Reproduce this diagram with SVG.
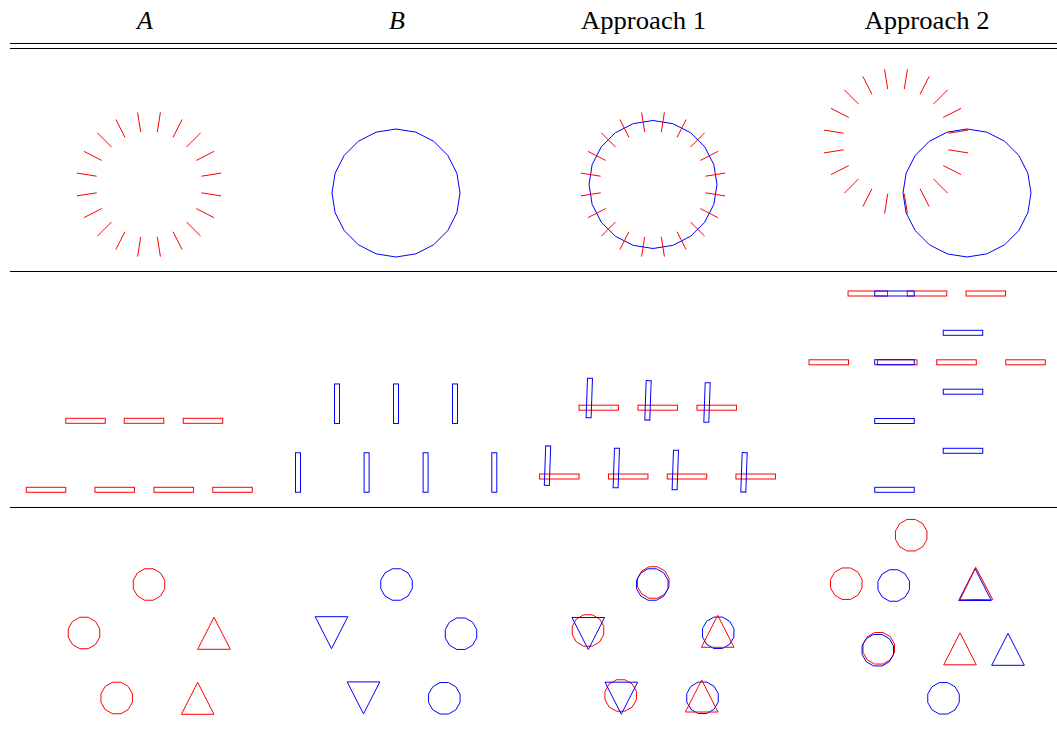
<svg xmlns="http://www.w3.org/2000/svg" xmlns:xlink="http://www.w3.org/1999/xlink" width="1057" height="729" viewBox="0 0 1057 729">
  <style>
    .hdr { font-family: "Liberation Serif", "DejaVu Serif", serif; font-size: 26px; fill: #000; text-anchor: middle; }
    .it { font-style: italic; }
    .rule { stroke: #000; stroke-width: 1; }
    .r { stroke: #ff0000; fill: none; stroke-width: 1; }
    .b { stroke: #0000ff; fill: none; stroke-width: 1; }
  </style>
  <defs>
    <!-- ring of 20 radial ticks, inner radius 53, outer radius 73 -->
    <path id="ring" d="M8.29,-52.35L11.42,-72.10 M24.06,-47.22L33.14,-65.04 M37.48,-37.48L51.62,-51.62 M47.22,-24.06L65.04,-33.14 M52.35,-8.29L72.10,-11.42 M52.35,8.29L72.10,11.42 M47.22,24.06L65.04,33.14 M37.48,37.48L51.62,51.62 M24.06,47.22L33.14,65.04 M8.29,52.35L11.42,72.10 M-8.29,52.35L-11.42,72.10 M-24.06,47.22L-33.14,65.04 M-37.48,37.48L-51.62,51.62 M-47.22,24.06L-65.04,33.14 M-52.35,8.29L-72.10,11.42 M-52.35,-8.29L-72.10,-11.42 M-47.22,-24.06L-65.04,-33.14 M-37.48,-37.48L-51.62,-51.62 M-24.06,-47.22L-33.14,-65.04 M-8.29,-52.35L-11.42,-72.10"/>
    <!-- large 20-sided circle, radius 64 -->
    <polygon id="big" points="0,-64 19.78,-60.87 37.62,-51.78 51.78,-37.62 60.87,-19.78 64,0 60.87,19.78 51.78,37.62 37.62,51.78 19.78,60.87 0,64 -19.78,60.87 -37.62,51.78 -51.78,37.62 -60.87,19.78 -64,0 -60.87,-19.78 -51.78,-37.62 -37.62,-51.78 -19.78,-60.87"/>
    <!-- small 12-sided circle, radius 16.3 -->
    <polygon id="dot" points="4.22,-15.74 11.53,-11.53 15.74,-4.22 15.74,4.22 11.53,11.53 4.22,15.74 -4.22,15.74 -11.53,11.53 -15.74,4.22 -15.74,-4.22 -11.53,-11.53 -4.22,-15.74"/>
    <!-- triangles pointing up / down -->
    <polygon id="tu" points="0,-16 16.3,16 -16.3,16"/>
    <polygon id="td" points="0,16 16.3,-16 -16.3,-16"/>
    <!-- thin bars -->
    <rect id="rh" x="-19.75" y="-2.5" width="39.5" height="5"/>
    <rect id="rv" x="-2.5" y="-19.75" width="5" height="39.5"/>
  </defs>

  <rect x="0" y="0" width="1057" height="729" fill="#fff"/>

  <!-- column headings -->
  <g id="headings">
    <text class="hdr it" x="145" y="29">A</text>
    <text class="hdr it" x="397" y="29">B</text>
    <text class="hdr" x="643.5" y="29" textLength="125" lengthAdjust="spacingAndGlyphs">Approach 1</text>
    <text class="hdr" x="927" y="29" textLength="125" lengthAdjust="spacingAndGlyphs">Approach 2</text>
  </g>

  <!-- table rules -->
  <g id="rules" class="rule">
    <line x1="10" y1="43.5" x2="1057" y2="43.5"/>
    <line x1="10" y1="48.5" x2="1057" y2="48.5"/>
    <line x1="10" y1="271.5" x2="1057" y2="271.5"/>
    <line x1="10" y1="507.5" x2="1057" y2="507.5"/>
  </g>

  <!-- row 1: ticks and circle -->
  <g id="r1-A"><use href="#ring" class="r" transform="translate(149,184.5)"/></g>
  <g id="r1-B"><use href="#big" class="b" transform="translate(396,193)"/></g>
  <g id="r1-ap1">
    <use href="#big" class="b" transform="translate(653,184.5)"/>
    <use href="#ring" class="r" transform="translate(653,184.5)"/>
  </g>
  <g id="r1-ap2">
    <use href="#ring" class="r" transform="translate(896,141.5)"/>
    <use href="#big" class="b" transform="translate(967,193)"/>
  </g>

  <!-- row 2: bars -->
  <g id="r2-A">
    <use href="#rh" class="r" transform="translate(85.5,420.8)"/>
    <use href="#rh" class="r" transform="translate(144,420.8)"/>
    <use href="#rh" class="r" transform="translate(203,420.8)"/>
    <use href="#rh" class="r" transform="translate(46,489.8)"/>
    <use href="#rh" class="r" transform="translate(114.7,489.8)"/>
    <use href="#rh" class="r" transform="translate(173.7,489.8)"/>
    <use href="#rh" class="r" transform="translate(232.5,489.8)"/>
  </g>
  <g id="r2-B">
    <use href="#rv" class="b" transform="translate(337,403.7)"/>
    <use href="#rv" class="b" transform="translate(396,403.7)"/>
    <use href="#rv" class="b" transform="translate(455,403.7)"/>
    <use href="#rv" class="b" transform="translate(298,472.5)"/>
    <use href="#rv" class="b" transform="translate(366.6,472.5)"/>
    <use href="#rv" class="b" transform="translate(425.6,472.5)"/>
    <use href="#rv" class="b" transform="translate(494.3,472.5)"/>
  </g>
  <g id="r2-ap1">
    <use href="#rh" class="r" transform="translate(598.8,407.7)"/>
    <use href="#rh" class="r" transform="translate(657.7,407.7)"/>
    <use href="#rh" class="r" transform="translate(716.7,407.7)"/>
    <use href="#rh" class="r" transform="translate(559.3,476.5)"/>
    <use href="#rh" class="r" transform="translate(628.2,476.5)"/>
    <use href="#rh" class="r" transform="translate(687,476.5)"/>
    <use href="#rh" class="r" transform="translate(755.7,476.5)"/>
    <use href="#rv" class="b" transform="translate(589.3,398) rotate(2)"/>
    <use href="#rv" class="b" transform="translate(648,400.3) rotate(2)"/>
    <use href="#rv" class="b" transform="translate(707,402.5) rotate(2)"/>
    <use href="#rv" class="b" transform="translate(547.5,465.7) rotate(2)"/>
    <use href="#rv" class="b" transform="translate(616.3,468) rotate(2)"/>
    <use href="#rv" class="b" transform="translate(675.3,470) rotate(2)"/>
    <use href="#rv" class="b" transform="translate(744,472.3) rotate(2)"/>
  </g>
  <g id="r2-ap2">
    <use href="#rh" class="r" transform="translate(867.8,293.5)"/>
    <use href="#rh" class="r" transform="translate(927,293.5)"/>
    <use href="#rh" class="r" transform="translate(985.8,293.5)"/>
    <use href="#rh" class="r" transform="translate(828.8,362.3)"/>
    <use href="#rh" class="r" transform="translate(897.3,362.3)"/>
    <use href="#rh" class="r" transform="translate(956.5,362.3)"/>
    <use href="#rh" class="r" transform="translate(1025.5,362.3)"/>
    <use href="#rh" class="b" transform="translate(894.5,293.5)"/>
    <use href="#rh" class="b" transform="translate(894.5,362.2)"/>
    <use href="#rh" class="b" transform="translate(894.5,421)"/>
    <use href="#rh" class="b" transform="translate(894.5,489.8)"/>
    <use href="#rh" class="b" transform="translate(963,332.8)"/>
    <use href="#rh" class="b" transform="translate(963,391.7)"/>
    <use href="#rh" class="b" transform="translate(963,450.8)"/>
  </g>

  <!-- row 3: circles and triangles -->
  <g id="r3-A">
    <use href="#dot" class="r" transform="translate(149,584.5)"/>
    <use href="#dot" class="r" transform="translate(84,633)"/>
    <use href="#dot" class="r" transform="translate(116.7,698)"/>
    <use href="#tu" class="r" transform="translate(214,633.3)"/>
    <use href="#tu" class="r" transform="translate(197.7,698.3)"/>
  </g>
  <g id="r3-B">
    <use href="#dot" class="b" transform="translate(396.5,584.5)"/>
    <use href="#dot" class="b" transform="translate(461,633.7)"/>
    <use href="#dot" class="b" transform="translate(444.3,698.3)"/>
    <use href="#td" class="b" transform="translate(331.5,632.7)"/>
    <use href="#td" class="b" transform="translate(363.5,697.9)"/>
  </g>
  <g id="r3-ap1">
    <use href="#dot" class="r" transform="translate(653.3,582.5)"/>
    <use href="#dot" class="b" transform="translate(652.3,584.5)"/>
    <use href="#dot" class="r" transform="translate(588,630.5)"/>
    <use href="#td" class="b" transform="translate(588.3,633.5)"/>
    <use href="#dot" class="b" transform="translate(718.2,632.8)"/>
    <use href="#tu" class="r" transform="translate(717.7,631.3)"/>
    <use href="#dot" class="r" transform="translate(620.7,695.5)"/>
    <use href="#td" class="b" transform="translate(621.3,698.2)"/>
    <use href="#dot" class="b" transform="translate(702.5,697.8)"/>
    <use href="#tu" class="r" transform="translate(701.7,696)"/>
  </g>
  <g id="r3-ap2">
    <use href="#dot" class="r" transform="translate(911.2,535.2)"/>
    <use href="#dot" class="r" transform="translate(846.3,583.7)"/>
    <use href="#dot" class="b" transform="translate(893.7,585.5)"/>
    <use href="#tu" class="b" transform="translate(975,584.5)"/>
    <use href="#tu" class="r" transform="translate(976,583.5) rotate(-1)"/>
    <use href="#dot" class="r" transform="translate(878.8,648.3)"/>
    <use href="#dot" class="b" transform="translate(877.8,650.2)"/>
    <use href="#tu" class="r" transform="translate(960,648.8)"/>
    <use href="#tu" class="b" transform="translate(1008,649.3)"/>
    <use href="#dot" class="b" transform="translate(943.5,698.3)"/>
  </g>
</svg>
